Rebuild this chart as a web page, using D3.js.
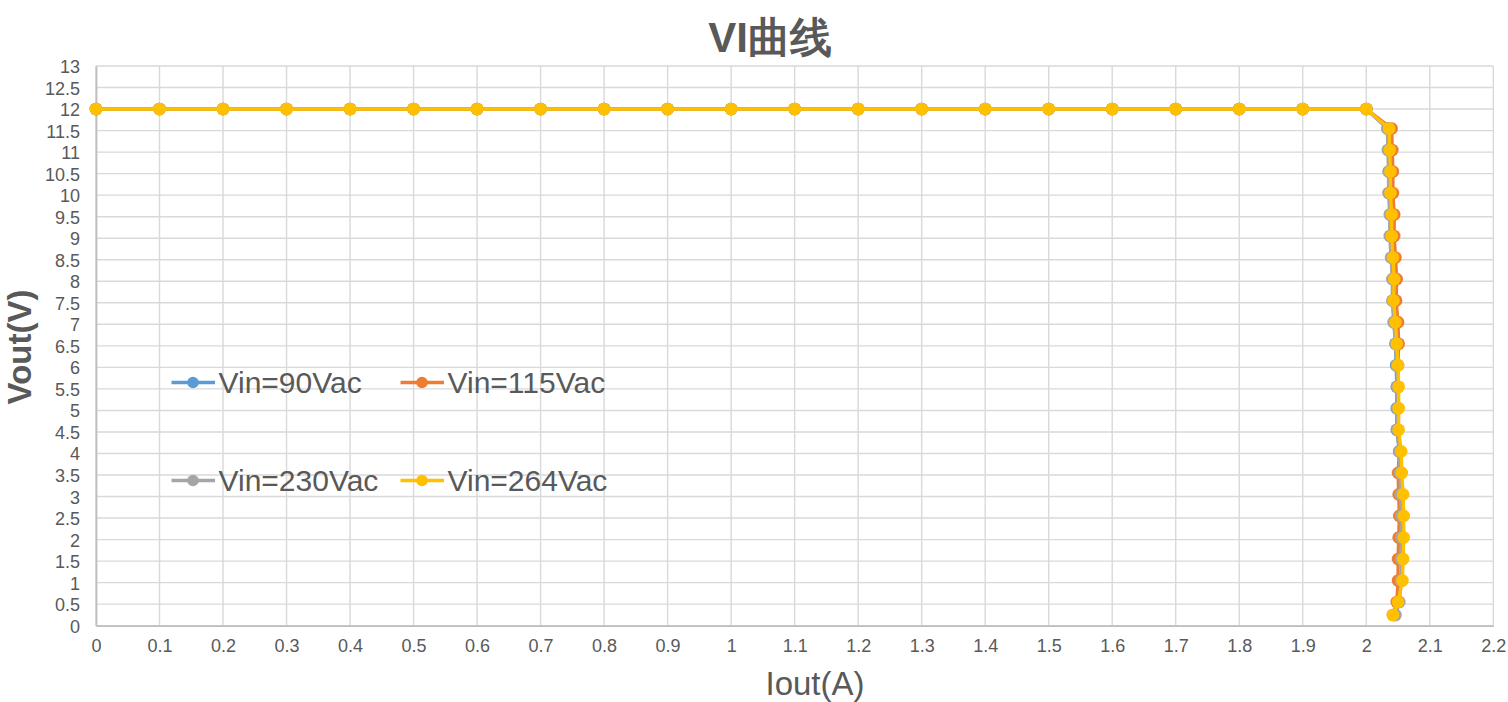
<!DOCTYPE html>
<html>
<head>
<meta charset="utf-8">
<script src="https://cdn.jsdelivr.net/npm/d3@7"></script>
<style>
  html, body { margin: 0; padding: 0; background: #fff; }
  svg { display: block; }
  text { font-family: "Liberation Sans", Arial, sans-serif; fill: #595959; }
</style>
</head>
<body>
<svg id="chart" width="1508" height="702"></svg>
<script>
// ---------- DATA ----------
const chartTitle = "VI曲线";
const xTitle = "Iout(A)";
const yTitle = "Vout(V)";
const seriesNames = ["Vin=90Vac", "Vin=115Vac", "Vin=230Vac", "Vin=264Vac"];
const seriesColors = ["#5B9BD5", "#ED7D31", "#A5A5A5", "#FFC000"];

const xTicks = [0, 0.1, 0.2, 0.3, 0.4, 0.5, 0.6, 0.7, 0.8, 0.9, 1, 1.1, 1.2, 1.3, 1.4, 1.5, 1.6, 1.7, 1.8, 1.9, 2, 2.1, 2.2];
const yTicks = [0, 0.5, 1, 1.5, 2, 2.5, 3, 3.5, 4, 4.5, 5, 5.5, 6, 6.5, 7, 7.5, 8, 8.5, 9, 9.5, 10, 10.5, 11, 11.5, 12, 12.5, 13];

// constant-voltage section (shared by all series)
const ioutCV = [0, 0.1, 0.2, 0.3, 0.4, 0.5, 0.6, 0.7, 0.8, 0.9, 1, 1.1, 1.2, 1.3, 1.4, 1.5, 1.6, 1.7, 1.8, 1.9, 2];
const voutCV = [12, 12, 12, 12, 12, 12, 12, 12, 12, 12, 12, 12, 12, 12, 12, 12, 12, 12, 12, 12, 12];

// constant-current section
const voutCC = [11.55, 11.05, 10.55, 10.05, 9.55, 9.05, 8.55, 8.05, 7.55, 7.05, 6.55, 6.05, 5.55, 5.05, 4.55, 4.05, 3.55, 3.05, 2.55, 2.05, 1.55, 1.05, 0.55, 0.25];
const ioutCC90  = [2.034, 2.035, 2.036, 2.036, 2.038, 2.038, 2.040, 2.042, 2.042, 2.044, 2.046, 2.047, 2.048, 2.048, 2.048, 2.052, 2.054, 2.055, 2.056, 2.056, 2.056, 2.055, 2.051, 2.045];
const ioutCC115 = [2.040, 2.041, 2.042, 2.042, 2.044, 2.044, 2.046, 2.048, 2.047, 2.050, 2.051, 2.050, 2.050, 2.050, 2.049, 2.052, 2.050, 2.051, 2.052, 2.051, 2.050, 2.050, 2.048, 2.042];
const ioutCC230 = [2.033, 2.034, 2.035, 2.035, 2.037, 2.037, 2.039, 2.041, 2.041, 2.043, 2.046, 2.048, 2.049, 2.049, 2.049, 2.052, 2.053, 2.054, 2.055, 2.055, 2.055, 2.055, 2.052, 2.046];
const ioutCC264 = [2.036, 2.037, 2.038, 2.038, 2.040, 2.040, 2.042, 2.044, 2.043, 2.046, 2.048, 2.050, 2.051, 2.051, 2.051, 2.055, 2.056, 2.058, 2.059, 2.059, 2.058, 2.057, 2.050, 2.042];

// ---------- BUILD ----------
const ccSets = [ioutCC90, ioutCC115, ioutCC230, ioutCC264];
const series = seriesNames.map((name, i) => {
  const pts = ioutCV.map((x, j) => ({ x, y: voutCV[j] }))
    .concat(ccSets[i].map((x, j) => ({ x, y: voutCC[j] })));
  return { name, color: seriesColors[i], pts };
});

const margin = { top: 66, right: 15, bottom: 76, left: 96 };
const svg = d3.select("#chart");

const x = d3.scaleLinear().domain([0, 2.2]).range([margin.left, 1493.3]);
const y = d3.scaleLinear().domain([0, 13]).range([625.7, margin.top]);

const fmt = v => String(+v.toFixed(1));

// gridlines
const grid = svg.append("g");
grid.selectAll("line.h").data(yTicks).join("line")
  .attr("x1", x(0)).attr("x2", x(2.2))
  .attr("y1", d => y(d)).attr("y2", d => y(d))
  .attr("stroke", "#d9d9d9").attr("stroke-width", 1.4);
grid.selectAll("line.v").data(xTicks).join("line")
  .attr("y1", y(0)).attr("y2", y(13))
  .attr("x1", d => x(d)).attr("x2", d => x(d))
  .attr("stroke", "#d9d9d9").attr("stroke-width", 1.4);

// axes
const xAxis = svg.append("g").attr("transform", `translate(0,${y(0)})`)
  .call(d3.axisBottom(x).tickValues(xTicks).tickFormat(fmt).tickSize(0).tickPadding(14));
const yAxis = svg.append("g").attr("transform", `translate(${x(0)},0)`)
  .call(d3.axisLeft(y).tickValues(yTicks).tickFormat(fmt).tickSize(0).tickPadding(16));
[xAxis, yAxis].forEach(a => {
  a.select(".domain").attr("stroke", "#bfbfbf").attr("stroke-width", 1.8);
  a.selectAll("text").attr("font-size", 18).attr("fill", "#595959")
    .attr("font-family", '"Liberation Sans", Arial, sans-serif');
});
xAxis.selectAll("text").attr("dy", "0.71em");
yAxis.selectAll("text").attr("dy", "0.36em");

// series
const line = d3.line().x(d => x(d.x)).y(d => y(d.y));
const sg = svg.append("g");
series.forEach(s => {
  const g = sg.append("g");
  g.append("path").attr("d", line(s.pts)).attr("fill", "none")
    .attr("stroke", s.color).attr("stroke-width", 3.3).attr("stroke-linejoin", "round");
  g.selectAll("circle").data(s.pts).join("circle")
    .attr("cx", d => x(d.x)).attr("cy", d => y(d.y)).attr("r", 6.3)
    .attr("fill", s.color);
});

// legend
const legendPos = [
  { lx: 171.5, ly: 382.5 },
  { lx: 400.5, ly: 382.5 },
  { lx: 171.5, ly: 480.5 },
  { lx: 400.5, ly: 480.5 }
];
series.forEach((s, i) => {
  const p = legendPos[i];
  const g = svg.append("g");
  g.append("line").attr("x1", p.lx).attr("x2", p.lx + 43.5)
    .attr("y1", p.ly).attr("y2", p.ly)
    .attr("stroke", s.color).attr("stroke-width", 3.3);
  g.append("circle").attr("cx", p.lx + 21.5).attr("cy", p.ly).attr("r", 5.8).attr("fill", s.color);
  g.append("text").attr("x", p.lx + 47).attr("y", p.ly + 10.5)
    .attr("font-size", 30).text(s.name);
});

// titles
svg.append("text").attr("x", 770).attr("y", 52).attr("text-anchor", "middle")
  .attr("font-size", 42).attr("font-weight", "bold")
  .attr("font-family", '"Liberation Sans", "Noto Sans CJK SC", Arial, sans-serif')
  .text(chartTitle);
svg.append("text").attr("x", 815).attr("y", 695).attr("text-anchor", "middle")
  .attr("font-size", 33).text(xTitle);
svg.append("text").attr("transform", "translate(31,347) rotate(-90)")
  .attr("text-anchor", "middle").attr("font-size", 33).attr("font-weight", "bold")
  .text(yTitle);
</script>
</body>
</html>
